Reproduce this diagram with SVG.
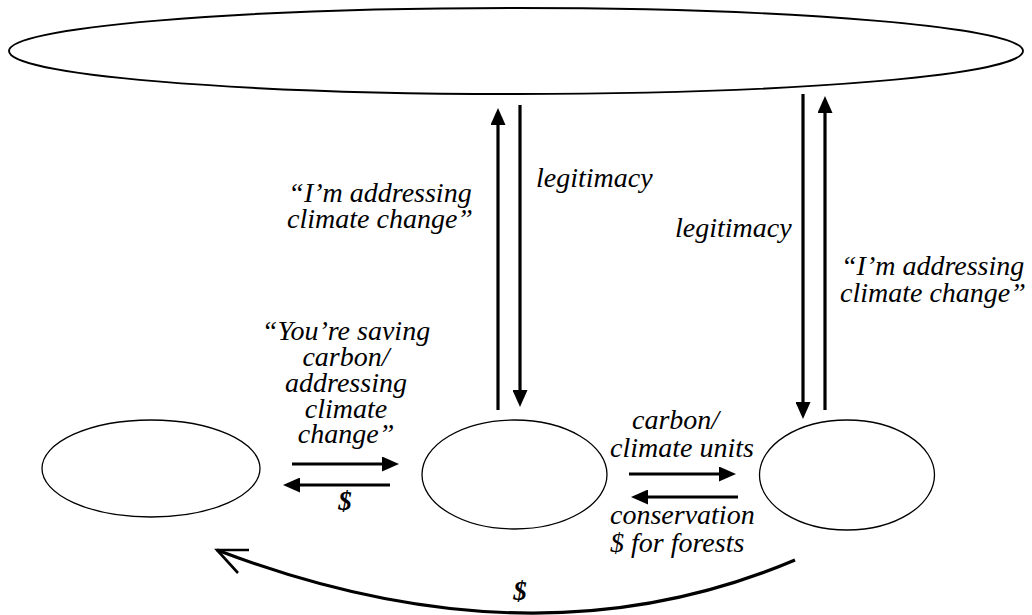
<svg xmlns="http://www.w3.org/2000/svg" width="1032" height="615" viewBox="0 0 1032 615">
<style>
.node{fill:#fff;stroke:#000;stroke-width:1.3}
.big{stroke-width:1.9}
.arr{stroke:#000;stroke-width:3.2;fill:none}
.lbl{font-family:"Liberation Serif","Times New Roman",serif;font-style:italic;font-size:28px;fill:#000}
.dol{font-family:"Liberation Serif","Times New Roman",serif;font-style:italic;font-weight:bold;font-size:27px;fill:#000}
</style>
<defs>
<marker id="ah" markerUnits="userSpaceOnUse" markerWidth="17" markerHeight="15" refX="1" refY="7.5" orient="auto" viewBox="0 0 17 15">
<path d="M0,0 L17,7.5 L0,15 z" fill="#000"/>
</marker>
</defs>
<rect width="1032" height="615" fill="#fff"/>
<g id="node-top"><ellipse class="node big" cx="516" cy="51" rx="507" ry="43"/></g>
<g id="node-left"><ellipse class="node" cx="151" cy="468.5" rx="109" ry="48.5"/></g>
<g id="node-mid"><ellipse class="node" cx="514.5" cy="474.5" rx="92.5" ry="54.5"/></g>
<g id="node-right"><ellipse class="node" cx="847" cy="475" rx="87.5" ry="55"/></g>
<g id="connectors">
<line class="arr" x1="498" y1="410" x2="498" y2="124" marker-end="url(#ah)"/>
<line class="arr" x1="520" y1="105" x2="520" y2="391" marker-end="url(#ah)"/>
<line class="arr" x1="803" y1="94" x2="803" y2="403" marker-end="url(#ah)"/>
<line class="arr" x1="825" y1="410" x2="825" y2="112" marker-end="url(#ah)"/>
<line class="arr" x1="292" y1="464" x2="383" y2="464" marker-end="url(#ah)"/>
<line class="arr" x1="390" y1="485" x2="299" y2="485" marker-end="url(#ah)"/>
<line class="arr" x1="629" y1="474" x2="720" y2="474" marker-end="url(#ah)"/>
<line class="arr" x1="738" y1="497" x2="647" y2="497" marker-end="url(#ah)"/>
<path class="arr" d="M795,560 Q534,671 217,550"/>
<path d="M249,550 L217,550 L238,573" fill="none" stroke="#000" stroke-width="2.6" stroke-linejoin="miter"/>
</g>
<g id="labels">
<text class="lbl" x="380" y="202" text-anchor="middle">“I’m addressing</text>
<text class="lbl" x="380" y="228" text-anchor="middle">climate change”</text>
<text class="lbl" x="536" y="187">legitimacy</text>
<text class="lbl" x="675" y="237">legitimacy</text>
<text class="lbl" x="841" y="275">“I’m addressing</text>
<text class="lbl" x="840" y="302">climate change”</text>
<text class="lbl" x="346" y="340" text-anchor="middle">“You’re saving</text>
<text class="lbl" x="346" y="366" text-anchor="middle">carbon/</text>
<text class="lbl" x="346" y="392" text-anchor="middle">addressing</text>
<text class="lbl" x="346" y="418" text-anchor="middle">climate</text>
<text class="lbl" x="346" y="443" text-anchor="middle">change”</text>
<text class="dol" x="345" y="510" text-anchor="middle">$</text>
<text class="lbl" x="632" y="429">carbon/</text>
<text class="lbl" x="610" y="457">climate units</text>
<text class="lbl" x="610" y="524">conservation</text>
<text class="lbl" x="610" y="552">$ for forests</text>
<text class="dol" x="520" y="600" text-anchor="middle">$</text>
</g>
</svg>
